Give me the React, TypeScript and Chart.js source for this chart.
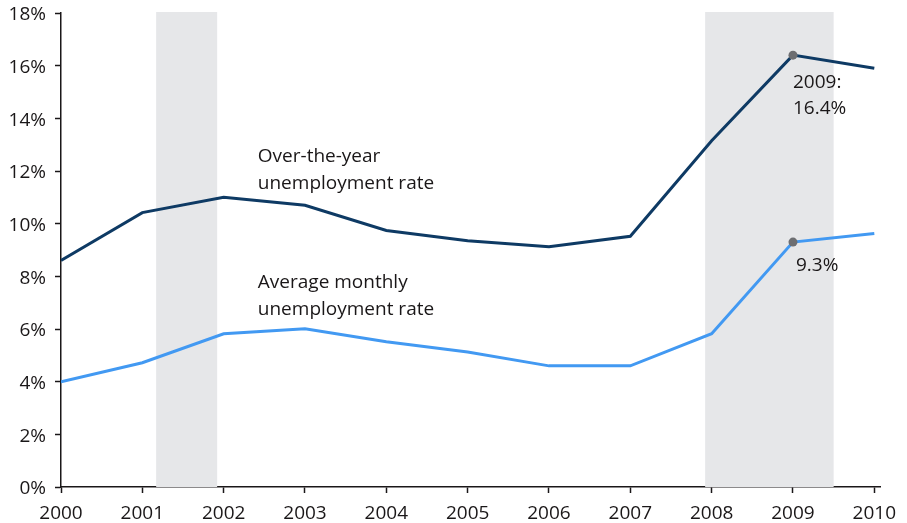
import React, { useEffect, useRef } from "react";
import { Chart, registerables } from "chart.js";

Chart.register(...registerables);

const years = [2000, 2001, 2002, 2003, 2004, 2005, 2006, 2007, 2008, 2009, 2010];
const overTheYear = [8.6, 10.42, 11.0, 10.7, 9.74, 9.35, 9.12, 9.52, 13.15, 16.4, 15.9];
const avgMonthly = [4.0, 4.72, 5.82, 6.01, 5.52, 5.13, 4.6, 4.6, 5.82, 9.3, 9.63];
const yTicks = [0, 2, 4, 6, 8, 10, 12, 14, 16, 18];
const recessions: [number, number][] = [
  [2001.17, 2001.92],
  [2007.92, 2009.5],
];
const highlightYear = 2009;
const seriesLabels = [
  ["Over-the-year", "unemployment rate"],
  ["Average monthly", "unemployment rate"],
];

const FONT = "'Open Sans', 'Noto Sans', sans-serif";
const TEXT = "#1a1718";

const bandsPlugin = {
  id: "bands",
  beforeDatasetsDraw(chart: any) {
    const { ctx, chartArea, scales } = chart;
    ctx.save();
    ctx.fillStyle = "#e6e7e9";
    for (const [a, b] of recessions) {
      const x1 = scales.x.getPixelForValue(a);
      const x2 = scales.x.getPixelForValue(b);
      ctx.fillRect(x1, chartArea.top - 1, x2 - x1, chartArea.bottom - chartArea.top + 1);
    }
    ctx.restore();
  },
};

const labelsPlugin = {
  id: "labels",
  afterDatasetsDraw(chart: any) {
    const { ctx, scales } = chart;
    const x = scales.x;
    const y = scales.y;
    ctx.save();
    ctx.fillStyle = TEXT;
    ctx.font = `19px ${FONT}`;
    ctx.textBaseline = "middle";
    ctx.textAlign = "left";
    const lh = 27;
    const drawLines = (lines: string[], xv: number, yv: number) => {
      const px = x.getPixelForValue(xv);
      const py = y.getPixelForValue(yv);
      lines.forEach((l, i) => ctx.fillText(l, px, py + i * lh));
    };
    drawLines(seriesLabels[0], 2002.42, 12.56);
    drawLines(seriesLabels[1], 2002.42, 7.76);
    const i = years.indexOf(highlightYear);
    const hx = x.getPixelForValue(highlightYear);
    const hy1 = y.getPixelForValue(overTheYear[i]);
    const hy2 = y.getPixelForValue(avgMonthly[i]);
    ctx.fillText(`${highlightYear}:`, hx, hy1 + 27);
    ctx.fillText(`${overTheYear[i].toFixed(1)}%`, hx, hy1 + 53);
    ctx.fillText(`${avgMonthly[i].toFixed(1)}%`, hx + 3, hy2 + 23);
    ctx.restore();
  },
};

export default function App() {
  const ref = useRef<HTMLCanvasElement | null>(null);

  useEffect(() => {
    if (!ref.current) return;
    const radii = years.map((yr) => (yr === highlightYear ? 4.5 : 0));
    const chart = new Chart(ref.current, {
      type: "line",
      data: {
        datasets: [
          {
            label: "Over-the-year unemployment rate",
            data: years.map((yr, i) => ({ x: yr, y: overTheYear[i] })),
            borderColor: "#0e3a64",
            borderWidth: 3,
            pointRadius: radii,
            pointBackgroundColor: "#6d6e71",
            pointBorderWidth: 0,
            tension: 0,
          },
          {
            label: "Average monthly unemployment rate",
            data: years.map((yr, i) => ({ x: yr, y: avgMonthly[i] })),
            borderColor: "#4299f2",
            borderWidth: 3,
            pointRadius: radii,
            pointBackgroundColor: "#6d6e71",
            pointBorderWidth: 0,
            tension: 0,
          },
        ],
      },
      options: {
        animation: false,
        responsive: true,
        maintainAspectRatio: false,
        layout: { padding: { top: 13, right: 27, left: 0, bottom: 0 } },
        plugins: {
          legend: { display: false },
          tooltip: { enabled: false },
        },
        scales: {
          x: {
            type: "linear",
            min: 2000,
            max: 2010.07,
            afterBuildTicks: (s: any) => {
              s.ticks = years.map((v) => ({ value: v }));
            },
            afterFit: (s: any) => {
              s.height = 36;
              s.paddingLeft = 0;
              s.paddingRight = 0;
            },
            grid: {
              drawOnChartArea: false,
              drawTicks: true,
              tickLength: 6,
              tickColor: TEXT,
              tickWidth: 1.5,
            },
            border: { color: TEXT, width: 1.5 },
            ticks: {
              color: TEXT,
              font: { family: FONT, size: 19 },
              padding: 9,
              maxRotation: 0,
              autoSkip: false,
              callback: (v: any) => String(v),
            },
          },
          y: {
            min: 0,
            max: 18,
            afterBuildTicks: (s: any) => {
              s.ticks = yTicks.map((v) => ({ value: v }));
            },
            afterFit: (s: any) => {
              s.width = 61;
              s.paddingTop = 0;
              s.paddingBottom = 0;
            },
            grid: {
              drawOnChartArea: false,
              drawTicks: true,
              tickLength: 6,
              tickColor: TEXT,
              tickWidth: 1.5,
            },
            border: { color: TEXT, width: 1.5 },
            ticks: {
              color: TEXT,
              font: { family: FONT, size: 19 },
              padding: 9,
              labelOffset: 2,
              callback: (v: any) => `${v}%`,
            },
          },
        },
      },
      plugins: [bandsPlugin, labelsPlugin],
    });
    return () => chart.destroy();
  }, []);

  return (
    <div style={{ position: "fixed", left: 0, top: 0, width: 907, height: 523 }}>
      <canvas ref={ref} />
    </div>
  );
}
